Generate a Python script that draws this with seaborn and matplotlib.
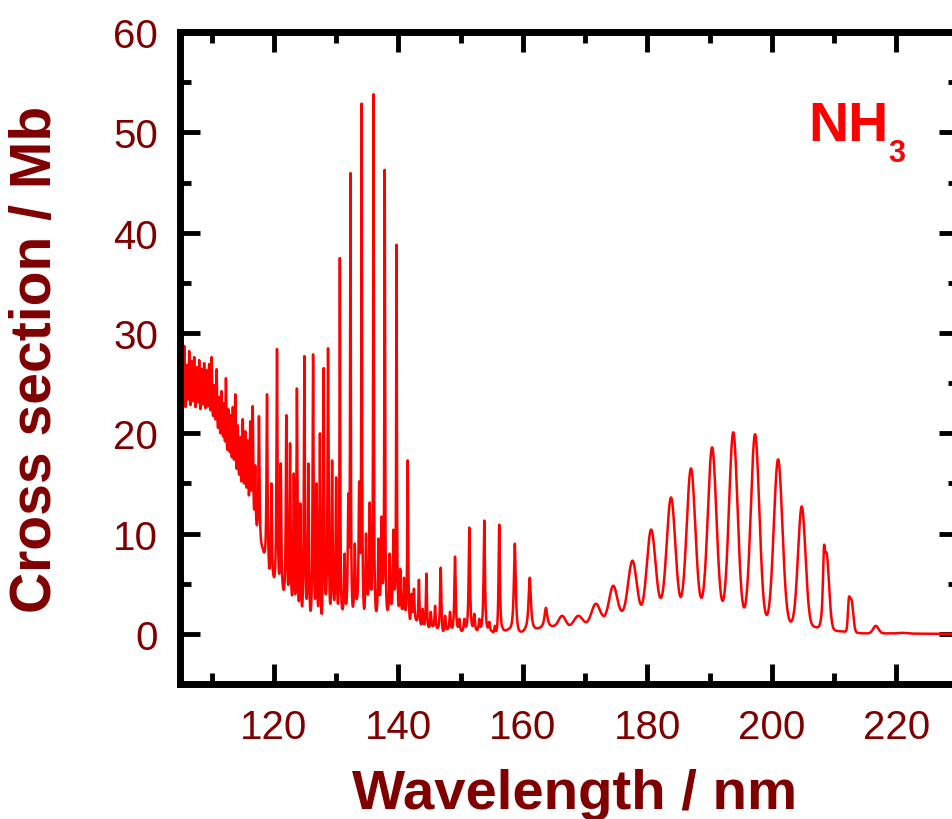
import numpy as np
import pandas as pd
import matplotlib
matplotlib.use("Agg")
import matplotlib.pyplot as plt
import seaborn as sns
from matplotlib.ticker import MultipleLocator

# ---------------- data ----------------
# band maxima: wavelength (nm), cross section at the maximum (Mb), width FWHM (nm)
peak_nm = [105.2, 105.6, 106.0, 106.4, 106.8, 107.2, 107.6, 108.0, 108.4, 108.8,
           109.2, 109.6, 110.0, 110.4, 110.8, 111.2, 111.6, 112.0, 112.3, 112.7,
           113.1, 113.4, 113.8, 114.2, 114.6, 115.0, 115.4, 115.8, 116.2, 116.6,
           117.0, 117.6, 118.9, 119.6, 120.5, 121.1, 122.0, 122.6, 123.2, 123.7,
           124.25, 124.9, 125.55, 126.3, 126.85, 127.4, 128.0, 128.7, 129.35, 130.0,
           130.6, 131.35, 131.95, 132.3, 133.0, 133.7, 134.1, 134.8, 135.4, 136.0,
           136.8, 137.3, 137.8, 138.6, 139.2, 139.7, 140.3, 140.9, 141.5, 142.1,
           142.5, 143.3, 143.9, 144.5, 145.2, 145.9, 146.8, 147.5, 148.3, 149.1,
           149.8, 150.6, 151.4, 152.2, 153.0, 153.8, 154.6, 155.5, 156.2, 158.7,
           161.1, 163.7, 166.3, 168.9, 171.7, 174.5, 177.6, 180.6, 183.8, 187.0,
           190.4, 193.8, 197.3, 201.0, 204.8, 208.35, 208.75, 212.35, 212.75, 216.7,
           221.0]
peak_mb = [27.5, 28.7, 26.8, 28.2, 27.2, 27.6, 26.6, 27.3, 26.4, 27.0,
           26.3, 26.9, 27.6, 24.8, 26.4, 23.6, 24.2, 23.0, 25.5, 22.4,
           21.8, 22.6, 23.9, 20.8, 19.6, 21.4, 20.2, 19.3, 21.2, 22.7,
           16.8, 21.7, 23.9, 15.0, 28.4, 17.0, 21.8, 19.0, 16.0, 24.5,
           13.0, 27.7, 17.0, 27.9, 15.0, 20.0, 26.5, 28.5, 17.3, 15.6,
           37.5, 8.0, 14.0, 46.1, 9.0, 15.2, 52.9, 10.0, 13.1, 53.8,
           9.5, 11.7, 46.4, 8.0, 10.4, 38.9, 6.5, 5.6, 17.3, 4.0,
           4.5, 5.4, 2.5, 6.0, 2.2, 2.8, 6.6, 1.8, 2.2, 7.7,
           1.5, 1.5, 10.6, 2.0, 1.5, 11.3, 1.2, 0.8, 10.9, 9.0,
           5.6, 2.6, 1.8, 1.8, 3.0, 4.8, 7.3, 10.4, 13.6, 16.5,
           18.6, 20.1, 19.9, 17.4, 12.7, 8.6, 8.1, 3.5, 3.5, 0.8,
           0.1]
peak_fwhm = [0.2, 0.2, 0.2, 0.2, 0.2, 0.2, 0.2, 0.2, 0.2, 0.2,
             0.2, 0.2, 0.2, 0.2, 0.2, 0.2, 0.2, 0.2, 0.2, 0.2,
             0.2, 0.2, 0.2, 0.2, 0.2, 0.2, 0.2, 0.2, 0.2, 0.2,
             0.2, 0.2, 0.2, 0.2, 0.2, 0.2, 0.2, 0.2, 0.2, 0.2,
             0.2, 0.2, 0.2, 0.2, 0.2, 0.2, 0.2, 0.2, 0.2, 0.2,
             0.13, 0.2, 0.2, 0.13, 0.2, 0.2, 0.13, 0.2, 0.2, 0.13,
             0.2, 0.2, 0.13, 0.2, 0.2, 0.13, 0.2, 0.2, 0.18, 0.2,
             0.2, 0.2, 0.2, 0.2, 0.2, 0.2, 0.25, 0.25, 0.25, 0.25,
             0.25, 0.25, 0.25, 0.25, 0.25, 0.25, 0.25, 0.25, 0.25, 0.35,
             0.45, 0.55, 1.3, 1.6, 1.6, 1.5, 1.6, 1.6, 1.6, 1.6,
             1.6, 1.6, 1.6, 1.6, 1.4, 0.3, 1.0, 0.35, 0.7, 1.0,
             1.5]

# minima between the bands: wavelength (nm), cross section (Mb)
valley_nm = [105.0, 105.4, 105.8, 106.2, 106.6, 107.0, 107.4, 107.8, 108.2, 108.6,
             109.0, 109.4, 109.8, 110.2, 110.6, 111.0, 111.4, 111.8, 112.15, 112.5,
             112.9, 113.25, 113.6, 114.0, 114.4, 114.8, 115.2, 115.6, 116.0, 116.4,
             116.8, 117.3, 118.2, 119.3, 119.95, 120.85, 121.4, 122.35, 122.9, 123.45,
             124.05, 124.5, 125.25, 125.9, 126.6, 127.1, 127.7, 128.35, 129.05, 129.65,
             130.3, 131.0, 131.6, 132.65, 133.3, 134.5, 135.05, 136.35, 137.0, 138.2,
             138.9, 140.0, 140.6, 141.2, 141.85, 142.3, 142.8, 143.6, 144.2, 144.8,
             145.5, 146.3, 147.1, 147.9, 148.7, 149.45, 150.2, 151.0, 151.75, 152.6,
             153.4, 154.15, 155.0, 155.85, 156.75, 157.7, 159.3, 160.3, 161.75, 162.6,
             164.9, 167.6, 170.3, 172.9, 175.9, 179.0, 182.1, 185.3, 188.7, 192.2,
             195.7, 199.4, 203.2, 206.9, 210.4, 214.6, 218.8, 223.5, 230.0]
valley_mb = [24.0, 23.3, 22.6, 23.4, 22.8, 23.2, 22.6, 23.1, 22.4, 22.9,
             22.5, 22.7, 22.3, 21.8, 21.4, 20.6, 20.0, 19.8, 19.2, 18.4,
             18.2, 17.6, 17.4, 16.5, 15.9, 15.2, 15.0, 14.6, 13.8, 14.3,
             12.5, 10.9, 8.6, 6.5, 5.8, 6.0, 5.1, 5.0, 3.9, 4.0,
             3.5, 2.8, 3.5, 2.3, 3.5, 2.8, 2.0, 4.0, 3.0, 3.5,
             3.0, 2.5, 3.0, 2.8, 3.5, 2.5, 4.0, 2.6, 4.0, 2.5,
             3.0, 3.0, 2.5, 2.5, 1.5, 2.2, 1.5, 1.0, 1.0, 0.8,
             0.8, 0.6, 0.5, 0.5, 0.7, 0.9, 0.3, 1.0, 1.2, 0.4,
             1.0, 1.2, 0.3, 0.6, 0.6, 0.5, 0.5, 0.5, 0.8, 0.6,
             0.8, 0.9, 1.2, 1.8, 2.3, 2.9, 3.6, 3.7, 3.6, 3.4,
             2.8, 2.2, 1.3, 0.7, 0.3, 0.05, 0.05, 0.02, 0.0]

x_ticks = [120, 140, 160, 180, 200, 220]
y_ticks = [0, 10, 20, 30, 40, 50, 60]
x_label = "Wavelength / nm"
y_label = "Cross section / Mb"
species = "NH"
species_sub = "3"

# ---------------- build the curve through the read maxima / minima ----------------
pk_x = np.array(peak_nm)
pk_y = np.array(peak_mb)
pk_w = np.array(peak_fwhm)
vl_x = np.array(valley_nm)
vl_y = np.array(valley_mb)


def band_profiles(x):
    d = (x[:, None] - pk_x[None, :]) / (pk_w[None, :] / 2.0)
    lor = 1.0 / (1.0 + d ** 2)
    gau = np.exp(-np.log(2.0) * d ** 2)
    return np.where(pk_x[None, :] >= 165, gau, lor)


def baseline_hats(x):
    eye = np.eye(len(vl_x))
    return np.stack([np.interp(x, vl_x, eye[j]) for j in range(len(vl_x))], axis=1)


pts = np.concatenate([pk_x, vl_x])
vals = np.concatenate([pk_y, vl_y])
M = np.hstack([band_profiles(pts), baseline_hats(pts)])
coef = np.linalg.solve(M, vals)

wl = np.linspace(105.0, 230.0, 14001)
xs = np.hstack([band_profiles(wl), baseline_hats(wl)]) @ coef
xs = np.clip(xs, 0.0, None)
df = pd.DataFrame({"wavelength": wl, "cross_section": xs})

# ---------------- plotting ----------------
sns.set_theme(style="ticks")
plt.rcParams["font.family"] = ["Liberation Sans", "DejaVu Sans"]

DARKRED = "#800000"
fig = plt.figure(figsize=(9.53, 8.2), dpi=100)
ax = fig.add_axes([0.1894, 0.1646, 0.8165, 0.7951])

sns.lineplot(data=df, x="wavelength", y="cross_section", color="#ff0000",
             linewidth=1.8, estimator=None, sort=False, ax=ax)

ax.set_xlim(105, 230)
ax.set_ylim(-5, 60)
ax.set_xticks(x_ticks)
ax.set_yticks(y_ticks)
ax.xaxis.set_minor_locator(MultipleLocator(10))
ax.yaxis.set_minor_locator(MultipleLocator(5))

for sp in ax.spines.values():
    sp.set_linewidth(5)
    sp.set_color("black")
    sp.set_visible(True)

ax.tick_params(which="both", direction="in", top=True, right=True,
               color="black", width=3.5)
ax.tick_params(which="major", length=14.5, labelsize=29, labelcolor=DARKRED)
ax.tick_params(which="minor", length=8)
ax.tick_params(axis="x", which="major", pad=17)
ax.tick_params(axis="y", which="major", pad=16)

ax.set_xlabel("")
ax.set_ylabel("")

fig.text(575 / 953, 11 / 820, x_label, ha="center", va="baseline",
         fontsize=40.5, fontweight="bold", color=DARKRED)
fig.text(36 / 953, (820 - 359) / 820, y_label, rotation=90, ha="center",
         va="center", fontsize=41, fontweight="bold", color=DARKRED)

fig.text(808 / 953, (820 - 141) / 820, species, ha="left", va="baseline",
         fontsize=40, fontweight="bold", color="#ff0000")
fig.text(888 / 953, (820 - 162) / 820, species_sub, ha="left", va="baseline",
         fontsize=22, fontweight="bold", color="#ff0000")

fig.savefig("out.png", dpi=100)
